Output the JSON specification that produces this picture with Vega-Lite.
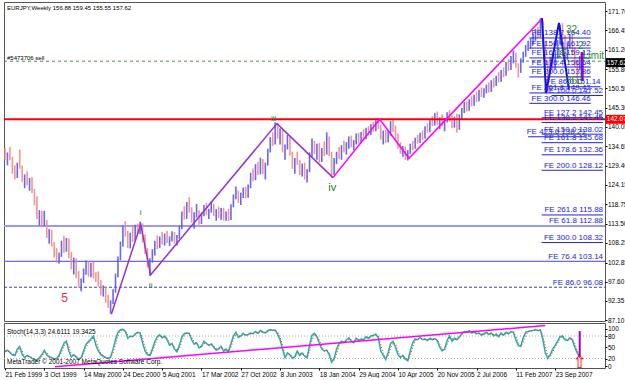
{
"$schema":"https://vega.github.io/schema/vega-lite/v6.json",
"background":"#ffffff",
"padding":{"left":1,"top":1,"right":0,"bottom":0},
"bounds":"flush",
"spacing":2,
"config":{"view":{"stroke":"#555555","strokeWidth":1},"font":"Liberation Sans","axis":{"labelFont":"Liberation Sans","labelFontSize":6.5,"labelColor":"#000000","tickColor":"#000000","grid":false,"domain":false},"text":{"font":"Liberation Sans"}},
"datasets":{"bars":[
{"w":0,"o":132.5,"h":134.2,"p":130.8,"c":131.5,"k":38,"d":40},
{"w":2,"o":131.5,"h":133.0,"p":129.5,"c":132.4,"k":42,"d":40},
{"w":4,"o":132.4,"h":134.5,"p":130.9,"c":131.2,"k":36,"d":39},
{"w":6,"o":131.2,"h":131.8,"p":127.2,"c":128.0,"k":30,"d":33},
{"w":8,"o":128.0,"h":129.5,"p":125.6,"c":126.4,"k":28,"d":29},
{"w":10,"o":126.4,"h":130.2,"p":126.0,"c":129.6,"k":45,"d":36},
{"w":12,"o":129.6,"h":133.8,"p":128.5,"c":129.0,"k":52,"d":48},
{"w":14,"o":129.0,"h":129.4,"p":125.0,"c":125.8,"k":30,"d":41},
{"w":16,"o":125.8,"h":127.0,"p":123.2,"c":126.2,"k":22,"d":26},
{"w":18,"o":126.2,"h":127.8,"p":124.0,"c":124.5,"k":28,"d":25},
{"w":20,"o":124.5,"h":126.0,"p":122.5,"c":125.3,"k":25,"d":26},
{"w":22,"o":125.3,"h":126.2,"p":121.8,"c":122.4,"k":20,"d":22},
{"w":24,"o":122.4,"h":123.0,"p":118.5,"c":119.2,"k":18,"d":19},
{"w":26,"o":119.2,"h":121.0,"p":114.8,"c":115.5,"k":15,"d":16},
{"w":28,"o":115.5,"h":117.2,"p":113.0,"c":116.5,"k":22,"d":18},
{"w":30,"o":116.5,"h":117.0,"p":112.5,"c":113.4,"k":30,"d":26},
{"w":32,"o":113.4,"h":117.0,"p":112.8,"c":114.0,"k":42,"d":36},
{"w":34,"o":114.0,"h":114.5,"p":109.6,"c":110.3,"k":30,"d":36},
{"w":36,"o":110.3,"h":112.0,"p":108.0,"c":111.2,"k":24,"d":27},
{"w":38,"o":111.2,"h":111.8,"p":107.2,"c":107.8,"k":22,"d":23},
{"w":40,"o":107.8,"h":108.5,"p":104.2,"c":105.0,"k":18,"d":20},
{"w":42,"o":105.0,"h":106.8,"p":102.8,"c":103.4,"k":20,"d":19},
{"w":44,"o":103.4,"h":105.6,"p":102.6,"c":105.0,"k":28,"d":24},
{"w":46,"o":105.0,"h":108.8,"p":104.4,"c":108.0,"k":45,"d":36},
{"w":48,"o":108.0,"h":110.2,"p":105.5,"c":106.2,"k":60,"d":52},
{"w":50,"o":106.2,"h":109.6,"p":105.8,"c":108.9,"k":66,"d":63},
{"w":52,"o":108.9,"h":109.4,"p":104.0,"c":104.6,"k":40,"d":53},
{"w":54,"o":104.6,"h":105.8,"p":101.0,"c":101.6,"k":24,"d":32},
{"w":56,"o":101.6,"h":104.2,"p":99.6,"c":103.5,"k":30,"d":27},
{"w":58,"o":103.5,"h":104.0,"p":98.6,"c":99.2,"k":24,"d":27},
{"w":60,"o":99.2,"h":100.6,"p":96.0,"c":96.8,"k":18,"d":21},
{"w":62,"o":96.8,"h":98.5,"p":95.0,"c":97.9,"k":22,"d":20},
{"w":64,"o":97.9,"h":101.2,"p":97.2,"c":100.4,"k":40,"d":31},
{"w":66,"o":100.4,"h":103.4,"p":99.5,"c":102.5,"k":58,"d":49},
{"w":68,"o":102.5,"h":103.2,"p":99.0,"c":99.6,"k":65,"d":61},
{"w":70,"o":99.6,"h":102.8,"p":98.8,"c":102.0,"k":72,"d":68},
{"w":72,"o":102.0,"h":103.0,"p":98.5,"c":99.0,"k":80,"d":76},
{"w":74,"o":99.0,"h":100.2,"p":97.5,"c":98.0,"k":55,"d":68},
{"w":76,"o":98.0,"h":100.4,"p":96.2,"c":96.8,"k":40,"d":48},
{"w":78,"o":96.8,"h":98.0,"p":93.8,"c":94.5,"k":30,"d":35},
{"w":80,"o":94.5,"h":96.6,"p":93.5,"c":95.8,"k":26,"d":28},
{"w":82,"o":95.8,"h":96.2,"p":91.8,"c":92.4,"k":22,"d":24},
{"w":84,"o":92.4,"h":94.0,"p":90.4,"c":91.0,"k":20,"d":21},
{"w":86,"o":91.0,"h":92.5,"p":88.9,"c":92.0,"k":24,"d":22},
{"w":88,"o":92.0,"h":95.5,"p":91.5,"c":95.0,"k":45,"d":34},
{"w":90,"o":95.0,"h":99.8,"p":94.6,"c":99.2,"k":70,"d":57},
{"w":92,"o":99.2,"h":104.5,"p":98.8,"c":104.0,"k":90,"d":80},
{"w":94,"o":104.0,"h":108.6,"p":103.5,"c":108.0,"k":97,"d":93},
{"w":96,"o":108.0,"h":113.0,"p":107.2,"c":112.4,"k":98,"d":97},
{"w":98,"o":112.4,"h":114.2,"p":110.0,"c":110.8,"k":92,"d":95},
{"w":100,"o":110.8,"h":111.5,"p":106.8,"c":107.4,"k":74,"d":83},
{"w":102,"o":107.4,"h":111.0,"p":106.7,"c":110.6,"k":80,"d":77},
{"w":104,"o":110.6,"h":112.8,"p":108.5,"c":109.2,"k":78,"d":79},
{"w":106,"o":109.2,"h":113.2,"p":108.8,"c":112.6,"k":86,"d":82},
{"w":108,"o":112.6,"h":113.5,"p":110.5,"c":111.2,"k":90,"d":88},
{"w":110,"o":111.2,"h":114.0,"p":110.6,"c":113.2,"k":88,"d":89},
{"w":112,"o":113.2,"h":113.6,"p":108.4,"c":109.0,"k":62,"d":75},
{"w":114,"o":109.0,"h":110.5,"p":105.2,"c":106.0,"k":40,"d":51},
{"w":116,"o":106.0,"h":106.8,"p":101.5,"c":102.2,"k":30,"d":35},
{"w":118,"o":102.2,"h":104.0,"p":99.2,"c":103.4,"k":28,"d":29},
{"w":120,"o":103.4,"h":106.5,"p":102.8,"c":106.0,"k":45,"d":36},
{"w":122,"o":106.0,"h":108.8,"p":104.8,"c":108.2,"k":65,"d":55},
{"w":124,"o":108.2,"h":110.2,"p":106.5,"c":107.2,"k":78,"d":71},
{"w":126,"o":107.2,"h":110.0,"p":106.8,"c":109.5,"k":83,"d":80},
{"w":128,"o":109.5,"h":111.2,"p":107.8,"c":108.4,"k":75,"d":79},
{"w":130,"o":108.4,"h":110.8,"p":107.5,"c":110.2,"k":80,"d":77},
{"w":132,"o":110.2,"h":111.5,"p":108.2,"c":108.8,"k":70,"d":75},
{"w":134,"o":108.8,"h":110.0,"p":107.4,"c":109.6,"k":55,"d":62},
{"w":136,"o":109.6,"h":111.4,"p":108.6,"c":110.8,"k":60,"d":57},
{"w":138,"o":110.8,"h":111.2,"p":108.0,"c":108.6,"k":45,"d":52},
{"w":140,"o":108.6,"h":110.4,"p":107.5,"c":110.0,"k":38,"d":41},
{"w":142,"o":110.0,"h":113.0,"p":109.4,"c":112.6,"k":55,"d":46},
{"w":144,"o":112.6,"h":116.8,"p":112.0,"c":116.2,"k":78,"d":66},
{"w":146,"o":116.2,"h":118.3,"p":114.6,"c":115.2,"k":86,"d":82},
{"w":148,"o":115.2,"h":119.4,"p":114.8,"c":118.8,"k":88,"d":87},
{"w":150,"o":118.8,"h":120.7,"p":116.5,"c":117.2,"k":87,"d":87},
{"w":152,"o":117.2,"h":118.0,"p":113.8,"c":114.4,"k":70,"d":78},
{"w":154,"o":114.4,"h":116.6,"p":112.1,"c":116.0,"k":58,"d":64},
{"w":156,"o":116.0,"h":118.9,"p":115.2,"c":116.4,"k":62,"d":60},
{"w":158,"o":116.4,"h":117.2,"p":113.2,"c":113.8,"k":48,"d":55},
{"w":160,"o":113.8,"h":116.5,"p":113.4,"c":116.0,"k":52,"d":50},
{"w":162,"o":116.0,"h":118.6,"p":115.5,"c":117.8,"k":66,"d":59},
{"w":164,"o":117.8,"h":119.2,"p":115.8,"c":116.4,"k":60,"d":63},
{"w":166,"o":116.4,"h":117.6,"p":114.8,"c":117.0,"k":55,"d":57},
{"w":168,"o":117.0,"h":119.7,"p":116.5,"c":118.5,"k":59,"d":57},
{"w":170,"o":118.5,"h":118.9,"p":115.6,"c":116.0,"k":50,"d":54},
{"w":172,"o":116.0,"h":117.5,"p":114.3,"c":116.8,"k":42,"d":46},
{"w":174,"o":116.8,"h":118.2,"p":115.0,"c":115.6,"k":46,"d":44},
{"w":176,"o":115.6,"h":117.8,"p":114.6,"c":117.2,"k":52,"d":49},
{"w":178,"o":117.2,"h":117.8,"p":114.4,"c":115.0,"k":40,"d":46},
{"w":180,"o":115.0,"h":116.8,"p":114.3,"c":116.3,"k":45,"d":42},
{"w":182,"o":116.3,"h":117.5,"p":114.2,"c":114.8,"k":38,"d":41},
{"w":184,"o":114.8,"h":118.8,"p":114.5,"c":118.4,"k":60,"d":49},
{"w":186,"o":118.4,"h":121.5,"p":118.0,"c":121.0,"k":80,"d":70},
{"w":188,"o":121.0,"h":123.7,"p":120.2,"c":121.6,"k":90,"d":85},
{"w":190,"o":121.6,"h":122.6,"p":119.2,"c":119.8,"k":76,"d":83},
{"w":192,"o":119.8,"h":122.0,"p":118.6,"c":121.6,"k":80,"d":78},
{"w":194,"o":121.6,"h":123.4,"p":120.5,"c":122.8,"k":87,"d":83},
{"w":196,"o":122.8,"h":123.6,"p":120.4,"c":121.0,"k":82,"d":84},
{"w":198,"o":121.0,"h":124.2,"p":120.6,"c":123.8,"k":84,"d":83},
{"w":200,"o":123.8,"h":127.4,"p":123.2,"c":127.0,"k":88,"d":86},
{"w":202,"o":127.0,"h":128.6,"p":125.2,"c":125.8,"k":86,"d":87},
{"w":204,"o":125.8,"h":129.8,"p":125.4,"c":129.2,"k":92,"d":89},
{"w":206,"o":129.2,"h":130.4,"p":126.8,"c":127.5,"k":87,"d":89},
{"w":208,"o":127.5,"h":131.6,"p":127.0,"c":130.8,"k":95,"d":91},
{"w":210,"o":130.8,"h":131.2,"p":127.2,"c":127.8,"k":90,"d":92},
{"w":212,"o":127.8,"h":130.2,"p":125.6,"c":129.8,"k":88,"d":89},
{"w":214,"o":129.8,"h":134.0,"p":129.4,"c":133.5,"k":94,"d":91},
{"w":216,"o":133.5,"h":137.2,"p":133.0,"c":136.6,"k":97,"d":95},
{"w":218,"o":136.6,"h":138.5,"p":134.8,"c":135.6,"k":95,"d":96},
{"w":220,"o":135.6,"h":141.3,"p":135.2,"c":140.5,"k":96,"d":95},
{"w":222,"o":140.5,"h":141.0,"p":136.8,"c":137.4,"k":85,"d":90},
{"w":224,"o":137.4,"h":139.6,"p":135.2,"c":138.8,"k":70,"d":77},
{"w":226,"o":138.8,"h":139.2,"p":133.0,"c":133.8,"k":45,"d":57},
{"w":228,"o":133.8,"h":135.2,"p":131.0,"c":134.5,"k":22,"d":33},
{"w":230,"o":134.5,"h":137.8,"p":133.8,"c":137.0,"k":35,"d":28},
{"w":232,"o":137.0,"h":137.4,"p":132.2,"c":132.8,"k":30,"d":32},
{"w":234,"o":132.8,"h":133.2,"p":128.5,"c":129.4,"k":20,"d":25},
{"w":236,"o":129.4,"h":131.5,"p":127.2,"c":130.8,"k":25,"d":22},
{"w":238,"o":130.8,"h":133.2,"p":129.6,"c":130.2,"k":40,"d":32},
{"w":240,"o":130.2,"h":131.0,"p":126.8,"c":127.4,"k":28,"d":34},
{"w":242,"o":127.4,"h":130.0,"p":126.4,"c":129.6,"k":35,"d":31},
{"w":244,"o":129.6,"h":130.2,"p":125.6,"c":126.2,"k":26,"d":30},
{"w":246,"o":126.2,"h":128.4,"p":124.8,"c":128.0,"k":22,"d":24},
{"w":248,"o":128.0,"h":133.0,"p":127.6,"c":132.4,"k":55,"d":38},
{"w":250,"o":132.4,"h":136.8,"p":131.8,"c":135.5,"k":82,"d":68},
{"w":252,"o":135.5,"h":136.2,"p":132.5,"c":133.2,"k":87,"d":84},
{"w":254,"o":133.2,"h":135.4,"p":131.0,"c":134.6,"k":78,"d":82},
{"w":256,"o":134.6,"h":135.6,"p":130.2,"c":130.8,"k":60,"d":69},
{"w":258,"o":130.8,"h":134.2,"p":130.4,"c":133.6,"k":45,"d":52},
{"w":260,"o":133.6,"h":136.0,"p":132.0,"c":132.8,"k":40,"d":42},
{"w":262,"o":132.8,"h":138.5,"p":132.4,"c":136.8,"k":42,"d":41},
{"w":264,"o":136.8,"h":137.4,"p":132.0,"c":132.6,"k":30,"d":36},
{"w":266,"o":132.6,"h":133.2,"p":126.0,"c":127.2,"k":10,"d":20},
{"w":268,"o":127.2,"h":131.5,"p":126.8,"c":131.0,"k":20,"d":15},
{"w":270,"o":131.0,"h":133.2,"p":129.8,"c":132.6,"k":45,"d":32},
{"w":272,"o":132.6,"h":134.5,"p":131.2,"c":131.8,"k":60,"d":52},
{"w":274,"o":131.8,"h":135.0,"p":131.0,"c":134.4,"k":66,"d":63},
{"w":276,"o":134.4,"h":136.2,"p":133.0,"c":133.6,"k":62,"d":64},
{"w":278,"o":133.6,"h":135.8,"p":132.4,"c":135.2,"k":70,"d":66},
{"w":280,"o":135.2,"h":137.4,"p":134.0,"c":136.8,"k":75,"d":72},
{"w":282,"o":136.8,"h":137.6,"p":134.4,"c":135.0,"k":66,"d":70},
{"w":284,"o":135.0,"h":136.4,"p":133.6,"c":136.0,"k":62,"d":64},
{"w":286,"o":136.0,"h":138.2,"p":135.2,"c":137.6,"k":74,"d":68},
{"w":288,"o":137.6,"h":138.4,"p":135.4,"c":136.0,"k":68,"d":71},
{"w":290,"o":136.0,"h":138.6,"p":135.6,"c":138.2,"k":72,"d":70},
{"w":292,"o":138.2,"h":139.4,"p":136.4,"c":137.0,"k":70,"d":71},
{"w":294,"o":137.0,"h":139.8,"p":136.6,"c":139.2,"k":78,"d":74},
{"w":296,"o":139.2,"h":140.2,"p":137.6,"c":138.2,"k":74,"d":76},
{"w":298,"o":138.2,"h":140.8,"p":137.8,"c":140.4,"k":80,"d":77},
{"w":300,"o":140.4,"h":141.4,"p":138.6,"c":139.4,"k":82,"d":81},
{"w":302,"o":139.4,"h":141.8,"p":138.8,"c":141.2,"k":85,"d":83},
{"w":304,"o":141.2,"h":142.4,"p":139.4,"c":140.0,"k":75,"d":80},
{"w":306,"o":140.0,"h":140.6,"p":136.5,"c":137.2,"k":40,"d":57},
{"w":308,"o":137.2,"h":139.0,"p":135.2,"c":138.4,"k":28,"d":34},
{"w":310,"o":138.4,"h":139.2,"p":135.6,"c":136.2,"k":17,"d":22},
{"w":312,"o":136.2,"h":138.8,"p":135.8,"c":138.2,"k":35,"d":26},
{"w":314,"o":138.2,"h":141.6,"p":137.6,"c":141.0,"k":60,"d":47},
{"w":316,"o":141.0,"h":141.9,"p":138.6,"c":139.2,"k":66,"d":63},
{"w":318,"o":139.2,"h":140.4,"p":136.2,"c":137.0,"k":50,"d":58},
{"w":320,"o":137.0,"h":138.2,"p":134.0,"c":134.6,"k":30,"d":40},
{"w":322,"o":134.6,"h":135.8,"p":132.6,"c":133.4,"k":22,"d":26},
{"w":324,"o":133.4,"h":134.8,"p":131.8,"c":134.0,"k":28,"d":25},
{"w":326,"o":134.0,"h":134.6,"p":131.0,"c":131.8,"k":18,"d":23},
{"w":328,"o":131.8,"h":133.6,"p":130.8,"c":133.2,"k":14,"d":16},
{"w":330,"o":133.2,"h":135.4,"p":132.6,"c":135.0,"k":40,"d":27},
{"w":332,"o":135.0,"h":136.2,"p":133.6,"c":134.4,"k":62,"d":51},
{"w":334,"o":134.4,"h":137.0,"p":134.0,"c":136.6,"k":72,"d":67},
{"w":336,"o":136.6,"h":137.8,"p":135.4,"c":136.0,"k":70,"d":71},
{"w":338,"o":136.0,"h":138.4,"p":135.6,"c":138.0,"k":76,"d":73},
{"w":340,"o":138.0,"h":139.0,"p":136.4,"c":137.2,"k":70,"d":73},
{"w":342,"o":137.2,"h":140.2,"p":136.8,"c":139.8,"k":72,"d":71},
{"w":344,"o":139.8,"h":141.0,"p":138.4,"c":139.0,"k":68,"d":70},
{"w":346,"o":139.0,"h":141.8,"p":138.6,"c":141.4,"k":74,"d":71},
{"w":348,"o":141.4,"h":143.0,"p":140.2,"c":140.8,"k":70,"d":72},
{"w":350,"o":140.8,"h":143.8,"p":140.4,"c":143.2,"k":73,"d":71},
{"w":352,"o":143.2,"h":144.2,"p":140.6,"c":141.2,"k":68,"d":70},
{"w":354,"o":141.2,"h":142.6,"p":139.4,"c":142.0,"k":50,"d":59},
{"w":356,"o":142.0,"h":143.4,"p":140.2,"c":140.8,"k":40,"d":45},
{"w":358,"o":140.8,"h":142.4,"p":138.8,"c":141.8,"k":45,"d":42},
{"w":360,"o":141.8,"h":144.0,"p":141.2,"c":143.4,"k":68,"d":56},
{"w":362,"o":143.4,"h":144.6,"p":141.4,"c":142.0,"k":80,"d":74},
{"w":364,"o":142.0,"h":143.2,"p":139.6,"c":140.4,"k":66,"d":73},
{"w":366,"o":140.4,"h":142.8,"p":139.8,"c":142.4,"k":74,"d":70},
{"w":368,"o":142.4,"h":143.6,"p":138.4,"c":139.6,"k":70,"d":72},
{"w":370,"o":139.6,"h":143.4,"p":139.2,"c":142.8,"k":78,"d":74},
{"w":372,"o":142.8,"h":145.2,"p":142.2,"c":144.6,"k":86,"d":82},
{"w":374,"o":144.6,"h":146.8,"p":143.8,"c":146.2,"k":92,"d":89},
{"w":376,"o":146.2,"h":147.0,"p":144.2,"c":144.8,"k":90,"d":91},
{"w":378,"o":144.8,"h":147.6,"p":144.4,"c":147.2,"k":94,"d":92},
{"w":380,"o":147.2,"h":148.4,"p":145.6,"c":146.2,"k":88,"d":91},
{"w":382,"o":146.2,"h":148.8,"p":145.8,"c":148.4,"k":90,"d":89},
{"w":384,"o":148.4,"h":149.6,"p":146.8,"c":147.4,"k":86,"d":88},
{"w":386,"o":147.4,"h":150.2,"p":147.0,"c":149.8,"k":88,"d":87},
{"w":388,"o":149.8,"h":150.8,"p":148.2,"c":148.8,"k":82,"d":85},
{"w":390,"o":148.8,"h":150.6,"p":148.0,"c":150.2,"k":86,"d":84},
{"w":392,"o":150.2,"h":151.6,"p":149.2,"c":151.0,"k":90,"d":88},
{"w":394,"o":151.0,"h":152.2,"p":149.4,"c":150.0,"k":84,"d":87},
{"w":396,"o":150.0,"h":152.8,"p":149.6,"c":152.4,"k":88,"d":86},
{"w":398,"o":152.4,"h":153.4,"p":150.8,"c":151.6,"k":80,"d":84},
{"w":400,"o":151.6,"h":154.0,"p":151.2,"c":153.6,"k":85,"d":82},
{"w":402,"o":153.6,"h":155.0,"p":152.2,"c":152.8,"k":78,"d":81},
{"w":404,"o":152.8,"h":155.6,"p":152.4,"c":155.2,"k":88,"d":83},
{"w":406,"o":155.2,"h":156.3,"p":153.6,"c":154.4,"k":82,"d":85},
{"w":408,"o":154.4,"h":157.8,"p":154.0,"c":157.2,"k":90,"d":86},
{"w":410,"o":157.2,"h":158.6,"p":155.4,"c":156.0,"k":86,"d":88},
{"w":412,"o":156.0,"h":159.4,"p":155.6,"c":158.8,"k":92,"d":89},
{"w":414,"o":158.8,"h":160.9,"p":157.4,"c":159.6,"k":90,"d":91},
{"w":416,"o":159.6,"h":160.4,"p":156.2,"c":156.8,"k":70,"d":80},
{"w":418,"o":156.8,"h":157.4,"p":153.5,"c":155.2,"k":55,"d":62},
{"w":420,"o":155.2,"h":158.8,"p":154.8,"c":158.4,"k":52,"d":53},
{"w":422,"o":158.4,"h":160.6,"p":157.6,"c":160.2,"k":75,"d":63},
{"w":424,"o":160.2,"h":162.4,"p":159.2,"c":161.8,"k":90,"d":82},
{"w":426,"o":161.8,"h":163.6,"p":160.8,"c":162.6,"k":92,"d":91},
{"w":428,"o":162.6,"h":164.2,"p":161.4,"c":163.8,"k":94,"d":93},
{"w":430,"o":163.8,"h":165.5,"p":162.6,"c":164.2,"k":95,"d":94},
{"w":432,"o":164.2,"h":166.8,"p":163.6,"c":166.2,"k":97,"d":96},
{"w":434,"o":166.2,"h":167.4,"p":164.4,"c":165.0,"k":94,"d":95},
{"w":436,"o":165.0,"h":169.8,"p":164.6,"c":168.6,"k":96,"d":95},
{"w":438,"o":168.6,"h":169.0,"p":162.0,"c":162.8,"k":70,"d":83},
{"w":440,"o":162.8,"h":163.6,"p":154.0,"c":156.2,"k":35,"d":52},
{"w":442,"o":156.2,"h":158.2,"p":149.4,"c":155.6,"k":20,"d":27},
{"w":444,"o":155.6,"h":159.2,"p":154.8,"c":158.4,"k":30,"d":25},
{"w":446,"o":158.4,"h":160.2,"p":155.6,"c":156.4,"k":45,"d":37},
{"w":448,"o":156.4,"h":159.8,"p":155.8,"c":159.2,"k":55,"d":50},
{"w":450,"o":159.2,"h":163.8,"p":158.8,"c":163.2,"k":66,"d":60},
{"w":452,"o":163.2,"h":168.0,"p":162.6,"c":166.8,"k":78,"d":72},
{"w":454,"o":166.8,"h":168.4,"p":163.8,"c":164.6,"k":80,"d":79},
{"w":456,"o":164.6,"h":165.2,"p":158.0,"c":159.2,"k":70,"d":75},
{"w":458,"o":159.2,"h":163.2,"p":158.4,"c":162.4,"k":68,"d":69},
{"w":460,"o":162.4,"h":165.4,"p":161.6,"c":164.8,"k":75,"d":71},
{"w":462,"o":164.8,"h":165.2,"p":159.6,"c":160.2,"k":70,"d":72},
{"w":464,"o":160.2,"h":161.8,"p":156.4,"c":157.0,"k":50,"d":60},
{"w":466,"o":157.0,"h":158.4,"p":151.8,"c":155.4,"k":35,"d":42},
{"w":468,"o":156.88,"h":159.45,"p":155.55,"c":157.62,"k":24.61,"d":19.34}
]},
"vconcat":[
{"width":601,"height":319,
"encoding":{
 "x":{"field":"w","type":"quantitative","scale":{"domain":[-0.814,488.6],"nice":false,"zero":false},"axis":null},
 "y":{"field":"p","type":"quantitative","scale":{"domain":[86.83,174.22],"nice":false,"zero":false},
   "axis":{"orient":"right","values":[171.7,166.45,161.2,155.8,150.55,145.3,140.05,134.65,129.4,124.15,118.75,113.5,108.25,102.85,97.6,92.35,87.1],"format":".2f","labelFontSize":6.5,"tickSize":2,"labelPadding":0.5,"title":null,"labelOverlap":false,"labelFlush":false,"labelBound":false}}},
"layer":[
{"data":{"values":[{"w":-0.814,"w2":488.6,"p":112.88}]},"mark":{"type":"rule","color":"#9a9af5","strokeWidth":2},"encoding":{"x2":{"field":"w2"}}},
{"data":{"values":[{"w":-0.814,"w2":488.6,"p":103.14}]},"mark":{"type":"rule","color":"#6a6af0","strokeWidth":1.2},"encoding":{"x2":{"field":"w2"}}},
{"data":{"values":[{"w":-0.814,"w2":488.6,"p":96.08}]},"mark":{"type":"rule","color":"#3c3cd0","strokeWidth":1,"strokeDash":[3,2]},"encoding":{"x2":{"field":"w2"}}},
{"data":{"values":[{"w":-0.814,"w2":488.6,"p":158.0}]},"mark":{"type":"rule","color":"#3a9a3a","strokeWidth":1,"strokeDash":[3,3]},"encoding":{"x2":{"field":"w2"}}},
{"data":{"name":"bars"},"mark":{"type":"rule","strokeWidth":1.6,"opacity":0.9},
 "encoding":{"y2":{"field":"h"},"color":{"condition":{"test":"datum.c >= datum.o","value":"#5656ee"},"value":"#f08888"}}},
{"data":{"values":[{"w":-0.814,"w2":488.6,"p":142.07}]},"mark":{"type":"rule","color":"#ff0000","strokeWidth":2},"encoding":{"x2":{"field":"w2"}}},
{"data":{"values":[{"w":86.6,"p":88.7},{"w":110.5,"p":113.3},{"w":118.6,"p":99.5},{"w":221.5,"p":140.9},{"w":267.1,"p":126.1}]},
 "mark":{"type":"line","color":"#9932cc","strokeWidth":1.5},"encoding":{}},
{"data":{"values":[{"w":267.1,"p":126.1},{"w":305.1,"p":142.1},{"w":329,"p":131.4},{"w":437.5,"p":169.7}]},
 "mark":{"type":"line","color":"#ff00ff","strokeWidth":1.5},"encoding":{}},
{"data":{"values":[{"w":437.3,"p":169.8},{"w":440.6,"p":149.3},{"w":451.1,"p":168.5},{"w":459.2,"p":150.4}]},
 "mark":{"type":"line","color":"#1010e0","strokeWidth":2},"encoding":{}},
{"data":{"values":[{"w":470,"p":160.5,"p2":152.6}]},
 "mark":{"type":"rule","color":"#a000c8","strokeWidth":3},"encoding":{"y2":{"field":"p2"}}},
{"data":{"values":[
 {"t":"FE 127.2 142.45","w":487,"p":142.53,"w0":437},
 {"t":"FE 138.2 141.45","w":487,"p":141.2,"w0":437},
 {"t":"FE 423.6 138.21","w":473,"p":137.3,"w0":426},
 {"t":"FE 150.0 138.02","w":487,"p":138.02,"w0":437},
 {"t":"FE 161.8 135.68","w":487,"p":135.68,"w0":437},
 {"t":"FE 178.6 132.36","w":487,"p":132.36,"w0":437},
 {"t":"FE 200.0 128.12","w":487,"p":128.12,"w0":437},
 {"t":"FE 261.8 115.88","w":487,"p":115.88,"w0":437},
 {"t":"FE 61.8 112.88","w":487,"p":112.88,"w0":487},
 {"t":"FE 300.0 108.32","w":487,"p":108.32,"w0":437},
 {"t":"FE 76.4 103.14","w":487,"p":103.14,"w0":487},
 {"t":"FE 86.0 96.08","w":487,"p":96.08,"w0":487},
 {"t":"FE 138.2 164.40","w":477,"p":164.36,"w0":427},
 {"t":"FE 150.0 161.92","w":477,"p":161.6,"w0":427},
 {"t":"FE 161.8 159.12","w":477,"p":158.9,"w0":427},
 {"t":"FE 176.4 156.64","w":477,"p":156.4,"w0":427},
 {"t":"FE 200.0 153.86","w":477,"p":153.7,"w0":427},
 {"t":"FE 86.0 151.14","w":485,"p":151.0,"w0":440},
 {"t":"FE 261.8 149.42","w":477,"p":149.3,"w0":427},
 {"t":"FE 100.0 147.52","w":487,"p":148.6,"w0":445},
 {"t":"FE 300.0 146.46","w":477,"p":146.46,"w0":427}
]},
 "layer":[
 {"mark":{"type":"rule","color":"#2222dd","strokeWidth":1},"encoding":{"x2":{"field":"w0"}}},
 {"mark":{"type":"text","align":"right","baseline":"bottom","fontSize":8,"color":"#2222dd","dy":-0.5},"encoding":{"text":{"field":"t"}}}
 ]},
{"data":{"values":[{"t":"i","w":110.5,"p":116.5},{"t":"ii","w":118.6,"p":96.4},{"t":"iii","w":218.8,"p":142.1}]},
 "mark":{"type":"text","fontSize":8,"color":"#1f7a1f","align":"center","baseline":"middle"},"encoding":{"text":{"field":"t"}}},
{"data":{"values":[{"t":"iv","w":266.5,"p":123.2}]},
 "mark":{"type":"text","fontSize":11,"color":"#1f7a1f","align":"center","baseline":"middle"},"encoding":{"text":{"field":"t"}}},
{"data":{"values":[{"t":"5","w":48.6,"p":93.05}]},
 "mark":{"type":"text","fontSize":12,"color":"#e0304a","align":"center","baseline":"middle"},"encoding":{"text":{"field":"t"}}},
{"data":{"values":[{"t":"32","w":456.8,"p":166.55},{"t":"15","w":448.7,"p":160.0},{"t":"2","w":466.6,"p":162.2},{"t":"Limit","w":470.7,"p":159.4},{"t":"363","w":456.8,"p":152.6}]},
 "mark":{"type":"text","fontSize":10,"color":"#2e8b2e","align":"left","baseline":"middle"},"encoding":{"text":{"field":"t"}}},
{"data":{"values":[{"t":"EURJPY,Weekly  156.88 159.45 155.55 157.62","w":1.6,"p":172.58},{"t":"#5473706 sell","w":1.6,"p":158.9}]},
 "mark":{"type":"text","fontSize":6,"color":"#000000","align":"left","baseline":"middle"},"encoding":{"text":{"field":"t"}}},
{"data":{"values":[{"w":489.3,"w2":507,"p":158.85,"p2":156.4,"col":"#000000"},{"w":489.3,"w2":507,"p":143.3,"p2":140.85,"col":"#ff0000"}]},
 "mark":{"type":"rect"},"encoding":{"x2":{"field":"w2"},"y2":{"field":"p2"},"fill":{"field":"col","type":"nominal","scale":null}}},
{"data":{"values":[{"w":489.3,"p":157.62,"t":"157.62"},{"w":489.3,"p":142.07,"t":"142.07"}]},
 "mark":{"type":"text","fontSize":6.5,"color":"#ffffff","align":"left","baseline":"middle","dx":1},"encoding":{"text":{"field":"t"}}}
]},
{"width":601,"height":45,
"encoding":{
 "x":{"field":"w","type":"quantitative","scale":{"domain":[-0.814,488.6],"nice":false,"zero":false},
   "axis":{"values":[0,32,64,96,128,160,192,224,256,288,320,352,384,416,448],"labelExpr":"['21 Feb 1999','3 Oct 1999','14 May 2000','24 Dec 2000','5 Aug 2001','17 Mar 2002','27 Oct 2002','8 Jun 2003','18 Jan 2004','29 Aug 2004','10 Apr 2005','20 Nov 2005','2 Jul 2006','11 Feb 2007','23 Sep 2007'][round(datum.value/32)]","labelAlign":"left","labelFontSize":6.5,"tickSize":2,"labelPadding":1,"title":null,"labelOverlap":false,"labelFlush":false,"labelBound":false}},
 "y":{"field":"v","type":"quantitative","scale":{"domain":[-5.33,114.67],"nice":false,"zero":false},
   "axis":{"orient":"right","values":[0,20,50,80,100],"format":"d","labelFontSize":6.5,"tickSize":2,"labelPadding":0.5,"title":null,"labelOverlap":false,"labelFlush":false,"labelBound":false}}},
"layer":[
{"data":{"values":[{"w":-0.814,"w2":488.6,"v":20},{"w":-0.814,"w2":488.6,"v":80}]},"mark":{"type":"rule","color":"#aaaaaa","strokeWidth":1,"strokeDash":[1,2]},"encoding":{"x2":{"field":"w2"}}},
{"data":{"name":"bars"},"transform":[{"fold":["k"],"as":["s","v"]}],"mark":{"type":"line","color":"#20b2aa","strokeWidth":1.5},"encoding":{}},
{"data":{"name":"bars"},"transform":[{"fold":["d"],"as":["s","v"]}],"mark":{"type":"line","color":"#ff2020","strokeWidth":1,"strokeDash":[1,2]},"encoding":{}},
{"data":{"values":[{"w":40.7,"v":-2},{"w":440,"v":108}]},"mark":{"type":"line","color":"#ff00ff","strokeWidth":1.5},"encoding":{}},
{"data":{"values":[{"w":468,"v":93,"v2":24}]},"mark":{"type":"rule","color":"#a000c8","strokeWidth":2},"encoding":{"y2":{"field":"v2"}}},
{"data":{"values":[{"w":468,"v":7,"t":"⇧"}]},"mark":{"type":"text","font":"DejaVu Sans","fontSize":17,"color":"#ff0000","align":"center","baseline":"middle"},"encoding":{"text":{"field":"t"}}},
{"data":{"values":[{"t":"Stoch(14,3,3) 24.6111 19.3425","w":1.6,"v":90.7},{"t":"MetaTrader © 2001-2007 MetaQuotes Software Corp.","w":1.6,"v":10.7}]},
 "mark":{"type":"text","fontSize":6.5,"color":"#000000","align":"left","baseline":"middle"},"encoding":{"text":{"field":"t"}}}
]}
]
}
